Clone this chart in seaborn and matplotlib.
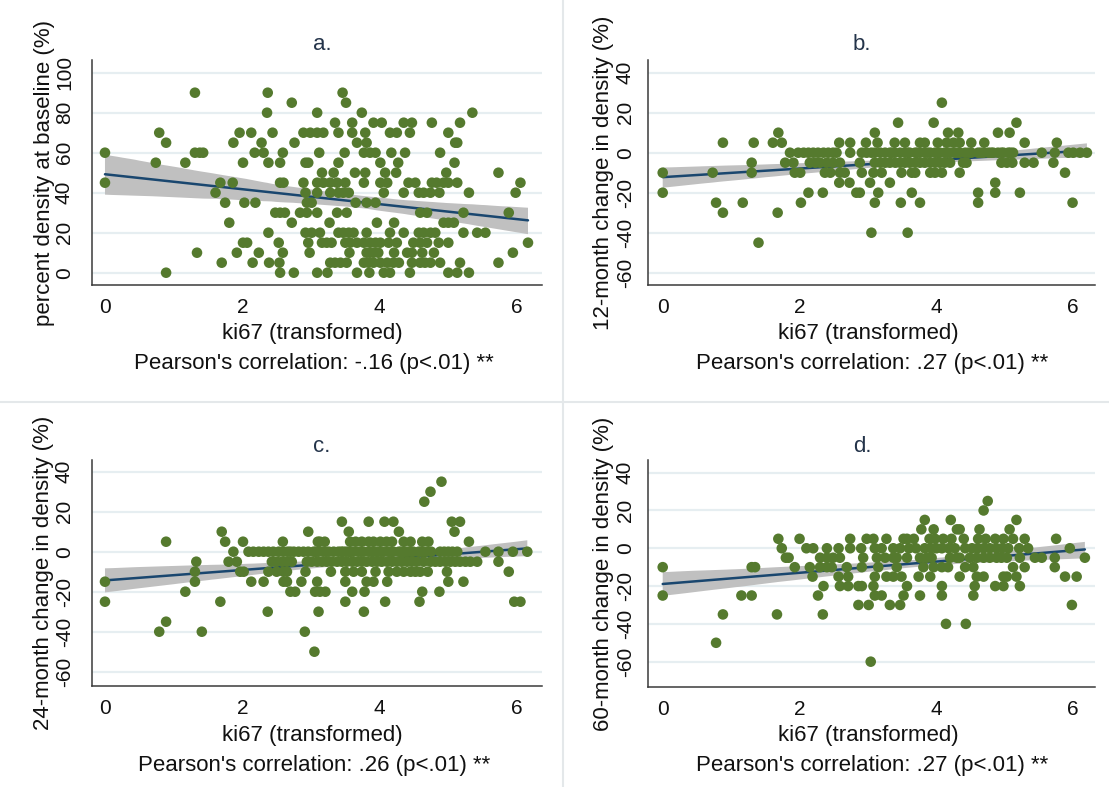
import numpy as np
import pandas as pd
import matplotlib
matplotlib.use("Agg")
import matplotlib.pyplot as plt
from matplotlib.lines import Line2D
import seaborn as sns

W, H = 1109, 787

# ki67 (transformed) values, grouped by the density value (%) recorded for each woman
baseline_pct = {
    90: [1.31, 2.37, 3.46],
    85: [2.72, 3.51],
    80: [2.36, 3.09, 3.74, 5.35],
    75: [3.35, 3.60, 3.91, 4.03, 4.35, 4.47, 4.76, 5.17],
    70: [0.79, 1.96, 2.13, 2.44, 2.89, 2.99, 3.09, 3.18, 3.40, 3.60, 3.79, 4.15, 4.25, 4.44, 5.00],
    65: [0.89, 1.87, 2.28, 2.76, 3.67, 3.81, 5.10, 5.13],
    60: [0.00, 1.31, 1.38, 1.43, 2.18, 2.31, 2.59, 3.12, 3.49, 3.77, 3.86, 3.94, 4.17, 4.37, 4.88],
    55: [0.74, 1.17, 2.01, 2.38, 2.55, 2.92, 2.96, 3.40, 4.01, 4.27, 5.09],
    50: [3.16, 3.33, 3.64, 3.79, 4.08, 4.24, 4.97, 5.73],
    45: [0.00, 1.68, 1.86, 2.55, 2.60, 2.89, 3.09, 3.18, 3.28, 3.38, 3.50, 3.77, 4.01, 4.11, 4.42,
         4.52, 4.76, 4.83, 4.93, 5.00, 5.13, 6.05],
    40: [1.61, 2.92, 3.09, 3.28, 3.40, 3.47, 3.55, 4.06, 4.35, 4.57, 4.64, 4.74, 4.87, 5.30, 5.98],
    35: [1.75, 2.03, 2.19, 2.94, 3.01, 3.65, 3.81, 3.94],
    30: [2.48, 2.55, 2.62, 2.84, 2.94, 3.09, 3.38, 3.52, 4.59, 4.69, 5.22, 5.88],
    25: [1.81, 2.72, 3.27, 3.96, 4.21, 4.93, 5.00, 5.08],
    20: [2.38, 2.92, 3.01, 3.13, 3.40, 3.47, 3.55, 3.62, 3.81, 4.15, 4.35, 4.57, 4.64, 4.74, 4.81,
         5.22, 5.42, 5.54],
    15: [2.01, 2.07, 2.53, 2.96, 3.16, 3.23, 3.30, 3.50, 3.57, 3.67, 3.77, 3.86, 3.94, 4.01, 4.13,
         4.25, 4.49, 4.59, 4.69, 4.86, 5.00, 6.16],
    10: [1.34, 1.92, 2.24, 2.59, 2.98, 3.56, 3.81, 3.86, 3.91, 3.98, 4.21, 4.40, 4.47, 4.62, 4.79, 5.94],
    5: [1.70, 2.15, 2.39, 2.54, 3.28, 3.35, 3.43, 3.52, 3.77, 3.84, 3.91, 4.01, 4.11, 4.20, 4.28,
        4.47, 4.59, 4.66, 4.74, 4.88, 5.17, 5.73],
    0: [0.89, 2.55, 2.75, 3.09, 3.24, 3.67, 3.85, 4.06, 4.15, 4.44, 5.00, 5.13, 5.30],
}

change_12m = {
    25: [4.08],
    15: [3.44, 3.96, 5.17],
    10: [1.69, 3.10, 4.17, 4.32, 4.90, 5.07],
    5: [0.88, 1.33, 1.61, 1.74, 2.58, 2.74, 2.97, 3.14, 3.39, 3.54, 3.76, 3.83, 4.02, 4.15, 4.25,
        4.34, 4.51, 4.70, 5.29, 5.76],
    0: [1.86, 1.98, 2.06, 2.13, 2.20, 2.27, 2.35, 2.42, 2.49, 2.54, 2.74, 2.91, 2.98, 3.05, 3.10,
        3.18, 3.25, 3.32, 3.39, 3.47, 3.54, 3.61, 3.69, 3.76, 3.83, 3.91, 3.98, 4.05, 4.12, 4.20,
        4.27, 4.34, 4.42, 4.51, 4.61, 4.69, 4.76, 4.83, 4.90, 4.98, 5.05, 5.12, 5.54, 5.73, 5.93,
        6.00, 6.10, 6.20, 3.35, 3.58, 3.72, 3.87, 4.02, 4.16, 4.31, 4.47, 4.65, 4.80, 4.95, 5.08],
    -5: [1.30, 1.79, 1.91, 2.15, 2.23, 2.30, 2.40, 2.49, 2.59, 2.88, 3.10, 3.18, 3.25, 3.32, 3.40,
         3.47, 3.54, 3.61, 3.69, 3.76, 3.83, 3.91, 3.98, 4.05, 4.12, 4.20, 4.39, 4.44, 4.95, 5.03,
         5.11, 5.29, 5.42, 5.71],
    -10: [0.00, 0.73, 1.30, 1.93, 2.01, 2.37, 2.45, 2.59, 2.66, 2.91, 3.08, 3.20, 3.49, 3.64, 3.69,
          3.91, 3.98, 4.08, 4.34, 5.88],
    -15: [2.58, 2.73, 3.03, 3.32, 4.86],
    -20: [0.00, 2.13, 2.34, 2.83, 2.88, 3.15, 3.64, 4.61, 4.86, 5.22],
    -25: [0.78, 1.17, 2.02, 3.10, 3.48, 3.76, 4.61, 5.99],
    -30: [0.88, 1.68],
    -40: [3.05, 3.58],
    -45: [1.40],
}

change_24m = {
    35: [4.90],
    30: [4.74],
    25: [4.65],
    15: [3.45, 3.84, 4.07, 4.20, 5.05, 5.17],
    10: [1.70, 2.96, 3.55, 4.28, 5.09],
    5: [0.89, 1.75, 2.01, 2.59, 3.10, 3.13, 3.57, 3.74, 3.84, 3.91, 4.01, 4.18, 4.35, 4.62, 4.71,
        5.30, 3.20, 3.65, 4.10, 4.45],
    0: [1.87, 2.09, 2.16, 2.24, 2.31, 2.38, 2.45, 2.53, 2.60, 2.70, 2.75, 2.89, 2.96, 3.04, 3.11,
        3.18, 3.26, 3.33, 3.40, 3.47, 3.55, 3.62, 3.69, 3.77, 3.84, 3.91, 3.98, 4.06, 4.13, 4.20,
        4.28, 4.35, 4.42, 4.49, 4.57, 4.64, 4.88, 5.00, 5.13, 5.54, 5.73, 5.94, 6.15,
        3.07, 3.22, 3.44, 3.58, 3.73, 3.88, 4.02, 4.17, 4.31, 4.46, 4.60, 4.75, 4.94, 5.06,
        2.66, 2.82, 3.51, 3.95, 4.38, 4.68],
    -5: [1.33, 1.80, 1.92, 2.43, 2.50, 2.58, 2.65, 2.72, 2.94, 3.01, 3.09, 3.16, 3.23, 3.30, 3.38,
         3.45, 3.52, 3.60, 3.67, 3.74, 3.81, 3.89, 3.96, 4.03, 4.11, 4.18, 4.25, 4.32, 4.40, 4.47,
         4.54, 4.64, 4.74, 4.81, 4.88, 4.96, 5.03, 5.10, 5.17, 5.25, 5.32, 5.42, 5.73],
    -10: [1.31, 1.97, 2.02, 2.38, 2.50, 2.60, 2.65, 2.92, 3.29, 3.50, 3.62, 3.74, 3.94, 4.13, 4.25,
          4.35, 4.45, 4.52, 4.59, 4.70, 4.98, 5.88],
    -15: [0.00, 1.31, 2.13, 2.31, 2.60, 2.65, 2.86, 3.09, 3.50, 3.81, 3.91, 4.11, 5.00, 5.22],
    -20: [1.17, 2.70, 2.77, 3.06, 3.13, 3.21, 3.60, 3.78, 4.62, 4.87],
    -25: [0.00, 1.68, 3.50, 4.08, 4.58, 5.96, 6.05],
    -30: [2.37, 3.11, 3.77],
    -35: [0.89],
    -40: [0.79, 1.41, 2.91],
    -50: [3.05],
}

change_60m = {
    25: [4.75],
    20: [4.69],
    15: [3.83, 4.21, 5.17],
    10: [3.78, 3.96, 4.30, 4.34, 4.63, 5.07],
    5: [1.69, 2.00, 2.74, 2.98, 3.08, 3.27, 3.52, 3.57, 3.98, 4.10, 4.22, 4.61, 4.86, 4.98, 5.29,
        5.75, 3.67, 3.90, 4.40, 4.72, 5.12],
    0: [1.74, 2.10, 2.20, 2.57, 2.74, 3.10, 3.37, 3.47, 3.83, 4.00, 4.08, 4.42, 4.69, 4.88, 5.34,
        5.95, 3.60, 3.70, 3.92, 4.18, 4.27, 4.52, 4.60, 4.78, 4.96, 5.05, 5.21, 2.40, 2.90, 3.20],
    -5: [1.80, 1.84, 2.30, 2.40, 2.49, 2.59, 2.93, 3.13, 3.25, 3.37, 3.42, 3.57, 3.76, 3.86, 3.93,
         4.20, 4.30, 4.34, 4.49, 4.59, 4.69, 4.78, 4.88, 4.95, 5.03, 5.22, 5.44, 5.54, 5.73, 6.17],
    -10: [0.00, 1.30, 1.35, 1.93, 2.15, 2.30, 2.40, 2.47, 2.69, 2.91, 3.15, 3.42, 3.81, 3.96, 4.08,
          4.17, 4.42, 4.54, 5.12, 5.29, 5.73],
    -15: [2.19, 2.57, 2.71, 3.10, 3.27, 3.37, 3.49, 3.74, 3.91, 4.34, 4.59, 4.69, 4.98, 5.03, 5.17,
          5.88, 6.05],
    -20: [2.35, 2.59, 2.71, 2.86, 2.91, 3.08, 3.57, 4.08, 4.56, 4.86, 4.98, 5.22],
    -25: [0.00, 1.15, 1.30, 2.27, 3.10, 3.20, 3.52, 3.76, 4.08, 4.54],
    -30: [2.86, 3.01, 3.32, 3.47, 5.98],
    -35: [0.88, 1.67, 2.34],
    -40: [4.14, 4.43],
    -50: [0.78],
    -60: [3.04],
}

panel_titles = ["a.", "b.", "c.", "d."]
y_titles = [
    "percent density at baseline (%)",
    "12-month change in density (%)",
    "24-month change in density (%)",
    "60-month change in density (%)",
]
x_title = "ki67 (transformed)"
notes = [
    "Pearson's correlation: -.16 (p<.01) **",
    "Pearson's correlation: .27 (p<.01) **",
    "Pearson's correlation: .26 (p<.01) **",
    "Pearson's correlation: .27 (p<.01) **",
]
x_ticks = [0, 2, 4, 6]
y_ticks_level = [0, 20, 40, 60, 80, 100]
y_ticks_change = [-60, -40, -20, 0, 20, 40]


def to_frame(rows):
    xs, ys = [], []
    for level, kis in rows.items():
        xs.extend(kis)
        ys.extend([level] * len(kis))
    return pd.DataFrame({"ki67": xs, "density": ys})


sns.set_style("white")
plt.rcParams["font.family"] = ["Liberation Sans", "DejaVu Sans"]
plt.rcParams["axes.unicode_minus"] = False

FS = 16          # titles, axis titles, notes
FS_TICK = 15     # tick labels
POINT = "#557a2e"
LINE = "#1a476f"
BAND = "#c0c0c0"
GRID = "#e6eef1"
AXIS = "#3a3a3a"
TXT = "#111111"

# pixel layout of each panel: plot box (l, t, r, b), limits, label anchors
layout = [
    dict(rows=baseline_pct, box=(92, 60, 542, 285), xlim=(-0.189, 6.364), ylim=(-6.15, 106.35),
         yticks=y_ticks_level, ypad=8.0, ylab_x=45, xlab=(312, 334), title=(322, 45), note=(314, 363)),
    dict(rows=change_12m, box=(648, 60, 1095, 285), xlim=(-0.215, 6.318), ylim=(-66.15, 46.35),
         yticks=y_ticks_change, ypad=4.5, ylab_x=604, xlab=(868, 334), title=(862, 45), note=(872, 363)),
    dict(rows=change_24m, box=(92, 460, 542, 686), xlim=(-0.189, 6.364), ylim=(-67.15, 45.85),
         yticks=y_ticks_change, ypad=8.0, ylab_x=44, xlab=(312, 735), title=(322, 447), note=(314, 765)),
    dict(rows=change_60m, box=(648, 460, 1095, 687), xlim=(-0.215, 6.318), ylim=(-73.4, 46.7),
         yticks=y_ticks_change, ypad=4.5, ylab_x=604, xlab=(868, 736), title=(862, 447), note=(872, 765)),
]

fig = plt.figure(figsize=(W / 100, H / 100), dpi=100)
fig.patch.set_facecolor("white")

# light frames separating the four combined graphs
fig.add_artist(Line2D([563 / W, 563 / W], [0, 1], color="#e4e8ea", lw=1.5))
fig.add_artist(Line2D([0, 1], [1 - 402 / H, 1 - 402 / H], color="#e4e8ea", lw=1.5))

for i, spec in enumerate(layout):
    l, t, r, b = spec["box"]
    ax = fig.add_axes([l / W, 1 - b / H, (r - l) / W, (b - t) / H])
    df = to_frame(spec["rows"])

    # linear fit with 95% confidence band, then the observations on top
    sns.regplot(data=df, x="ki67", y="density", ax=ax, scatter=False, ci=95,
                n_boot=1000, seed=3, line_kws=dict(color=LINE, lw=1.8, zorder=3))
    for coll in ax.collections:
        coll.set_facecolor(BAND)
        coll.set_alpha(1)
        coll.set_edgecolor("none")
        coll.set_zorder(2)
    sns.scatterplot(data=df, x="ki67", y="density", ax=ax, color=POINT, s=58,
                    edgecolor="none", linewidth=0, zorder=4, legend=False)

    ax.set_xlim(*spec["xlim"])
    ax.set_ylim(*spec["ylim"])
    ax.set_xticks(x_ticks)
    ax.set_yticks(spec["yticks"])
    ax.grid(axis="y", color=GRID, lw=1.6)
    ax.grid(axis="x", visible=False)
    ax.set_axisbelow(True)
    for side in ("top", "right"):
        ax.spines[side].set_visible(False)
    for side in ("left", "bottom"):
        ax.spines[side].set_color(AXIS)
        ax.spines[side].set_linewidth(1.1)
    ax.tick_params(axis="x", length=6.5, width=1, color=AXIS, pad=3, labelsize=FS_TICK,
                   labelcolor=TXT)
    ax.tick_params(axis="y", length=5, width=1, color=AXIS, pad=spec["ypad"], labelsize=FS_TICK,
                   labelcolor=TXT, labelrotation=90)
    for lab in ax.get_yticklabels():
        lab.set_verticalalignment("center")

    ax.set_xlabel(x_title, fontsize=FS, color=TXT)
    ax.xaxis.label.set_verticalalignment("center")
    lx, ly = spec["xlab"]
    ax.xaxis.set_label_coords((lx - l) / (r - l), (b - ly) / (b - t))
    ax.set_ylabel(y_titles[i], fontsize=FS, color=TXT)
    ax.yaxis.label.set_verticalalignment("center")
    ax.yaxis.set_label_coords((spec["ylab_x"] - l) / (r - l), 0.5)

    tx, ty = spec["title"]
    fig.text(tx / W, 1 - ty / H, panel_titles[i], ha="center", va="center",
             fontsize=FS, color="#24344a")
    nx, ny = spec["note"]
    fig.text(nx / W, 1 - ny / H, notes[i], ha="center", va="center", fontsize=FS, color=TXT)

fig.savefig("out.png", dpi=100, facecolor="white")
